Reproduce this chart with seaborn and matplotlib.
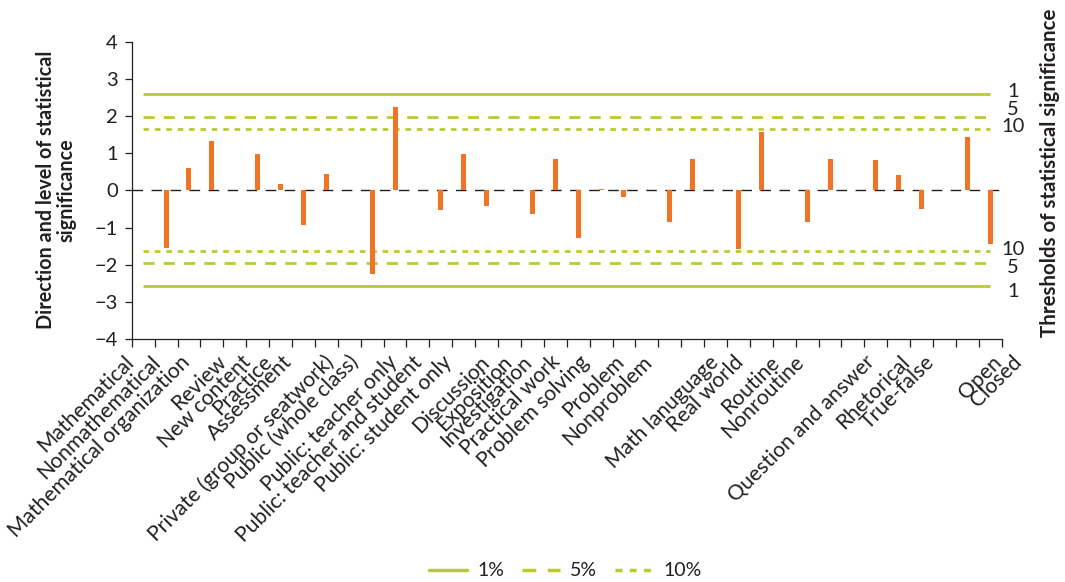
import numpy as np
import pandas as pd
import matplotlib
matplotlib.use("Agg")
import matplotlib.pyplot as plt
import matplotlib.transforms as mtransforms
from matplotlib.lines import Line2D
import seaborn as sns

# Lesson features, grouped; one empty slot separates the groups
groups = [
    ["Mathematical", "Nonmathematical", "Mathematical organization"],
    ["Review", "New content", "Practice", "Assessment"],
    ["Private (group or seatwork)", "Public (whole class)"],
    ["Public: teacher only", "Public: teacher and student", "Public: student only"],
    ["Discussion", "Exposition", "Investigation", "Practical work", "Problem solving"],
    ["Problem", "Nonproblem"],
    ["Math lanuguage", "Real world"],
    ["Routine", "Nonroutine"],
    ["Question and answer", "Rhetorical", "True-false"],
    ["Open", "Closed"],
]

# Direction and level of statistical significance, one per feature
values = [
    -1.56, 0.61, 1.34,
    0.98, 0.17, -0.94, 0.44,
    -2.25, 2.25,
    -0.54, 0.98, -0.41,
    -0.63, 0.84, -1.27, 0.04, -0.18,
    -0.84, 0.84,
    -1.59, 1.57,
    -0.84, 0.84,
    0.81, 0.41, -0.51,
    1.43, -1.44,
]

# Significance thresholds (z values) and their names
thresholds = [2.58, 1.96, 1.645]
threshold_names = ["1", "5", "10"]
legend_names = ["1%", "5%", "10%"]

# ---- layout --------------------------------------------------------------
ORANGE = "#F37324"
GREEN = "#BACB2E"
INK = "#231F20"

# where each rotated category name ends, relative to its bar's slot
label_shift = [
    -1.55, -1.39, -1.10,
    -1.50, -1.43, -1.51, -1.64,
    -1.82, -1.72,
    -2.05, -1.96, -1.65,
    -1.99, -2.03, -2.15, -1.93, -1.66,
    -2.13, -1.91,
    -1.00, -0.91,
    -1.33, -1.29,
    -0.18, 0.35, 0.40,
    1.37, 1.24,
]
# vertical nudges for the threshold names at the right end (upper, lower)
upper_nudge = [0.07, 0.22, 0.06]
lower_nudge = [-0.15, -0.11, 0.06]
line_styles = ["-", (0, (4.0, 3.3)), (0, (2.0, 2.1))]

labels, slots = [], []
pos = 1
for g in groups:
    for name in g:
        labels.append(name)
        slots.append(pos)
        pos += 1
    pos += 1
n_slots = slots[-1] + 1

df = pd.DataFrame({"slot": slots, "value": values, "feature": labels})

sns.set_style("ticks")
plt.rcParams["font.family"] = ["Lato", "DejaVu Sans"]
plt.rcParams["axes.unicode_minus"] = True

fig = plt.figure(figsize=(10.65, 5.82), dpi=100)
ax = fig.add_axes([0.1237, 0.4175, 0.8169, 0.5109])

sns.barplot(data=df, x="slot", y="value", native_scale=True, orient="x",
            width=0.22, color=ORANGE, saturation=1, errorbar=None,
            linewidth=0, ax=ax, zorder=3)

# zero reference line
ax.axhline(0, color=INK, lw=1.0, ls=(0, (7.6, 6.1)), zorder=2)

# threshold lines, both signs
first, last = min(slots) - 1, max(slots)
for t, st in zip(thresholds, line_styles):
    for sgn in (1, -1):
        ax.hlines(sgn * t, first, last, color=GREEN, lw=2.0, linestyle=st, zorder=1)

for t, nm, up, lo in zip(thresholds, threshold_names, upper_nudge, lower_nudge):
    ax.text(last + 1.0, t + up, nm, ha="center", va="center", fontsize=14.5,
            color=INK, clip_on=False)
    ax.text(last + 1.0, -t + lo, nm, ha="center", va="center", fontsize=14.5,
            color=INK, clip_on=False)

ax.set_xlim(-0.5, n_slots - 0.5)
ax.set_ylim(-4, 4)
ax.set_yticks(np.arange(-4, 5, 1))
ax.set_xticks(np.arange(-0.5, n_slots, 1.0))
ax.set_xticklabels([])
ax.set_xlabel("")
ax.set_ylabel("")
ax.tick_params(axis="x", length=5.5, width=0.9, color=INK, direction="out")
ax.tick_params(axis="y", length=5, width=0.9, color=INK, direction="out",
               labelsize=14.5, labelcolor=INK, pad=5)
for side in ("top", "right"):
    ax.spines[side].set_visible(False)
for side in ("left", "bottom"):
    ax.spines[side].set_color(INK)
    ax.spines[side].set_linewidth(0.9)

# rotated category names below the axis
trans = mtransforms.blended_transform_factory(ax.transData, ax.transAxes)
for s, name, sh in zip(slots, labels, label_shift):
    ax.text(s + sh, -0.067, name, transform=trans, rotation=45,
            rotation_mode="anchor", ha="right", va="center",
            fontsize=15.2, color=INK, clip_on=False)

fig.text(56 / 1065, 1 - 190 / 582, "Direction and level of statistical\nsignificance",
         rotation=90, ha="center", va="center", multialignment="center",
         fontsize=14.2, fontweight="bold", color=INK, linespacing=1.05)
fig.text(1050 / 1065, 1 - 173 / 582, "Thresholds of statistical significance",
         rotation=90, ha="center", va="center",
         fontsize=14.8, fontweight="bold", color=INK)

handles = [Line2D([0], [0], color=GREEN, lw=2.5, linestyle=st) for st in line_styles]
fig.legend(handles, legend_names, loc="center", bbox_to_anchor=(565 / 1065, 1 - 571 / 582),
           ncol=3, frameon=False, fontsize=14, handlelength=2.0,
           handletextpad=0.5, columnspacing=0.9, labelcolor=INK)

fig.savefig("out.png", dpi=100)
